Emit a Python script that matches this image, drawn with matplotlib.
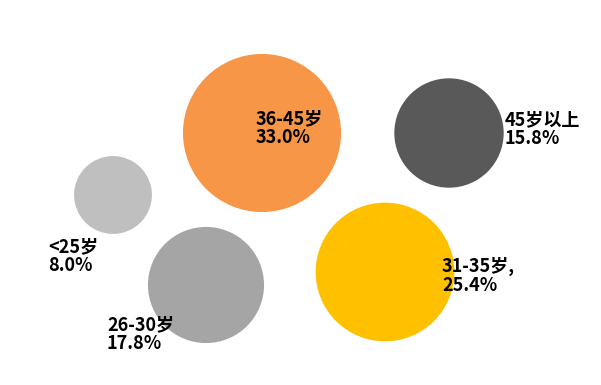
import matplotlib.pyplot as plt
import numpy as np

plt.rcParams['font.family'] = ['Noto Sans CJK SC', 'DejaVu Sans']

labels = ['<25岁', '26-30岁', '36-45岁', '31-35岁,', '45岁以上']
shares = [8.0, 17.8, 33.0, 25.4, 15.8]
xs = [113, 206, 262, 385, 449]
ys = [195, 285, 133, 272, 133]
colors = ['#BFBFBF', '#A5A5A5', '#F79646', '#FFC000', '#595959']

# label offsets (left, top) relative to bubble centre, in data units
offsets = [(-65, 42), (-99, 30), (-6, -24), (57, -15), (56, -23)]

fig = plt.figure(figsize=(6.01, 3.85), dpi=100)
ax = fig.add_axes([0, 0, 1, 1])
ax.set_xlim(0, 601)
ax.set_ylim(385, 0)
ax.axis('off')

# bubble area proportional to share
scale = 13.76 * 0.72 * 2
sizes = [(scale * np.sqrt(v)) ** 2 for v in shares]
ax.scatter(xs, ys, s=sizes, c=colors, linewidths=0, zorder=1)

for lab, v, x, y, (dx, dy) in zip(labels, shares, xs, ys, offsets):
    ax.text(x + dx, y + dy, f"{lab}\n{v:.1f}%", ha='left', va='top',
            fontsize=13, fontweight='bold', color='black',
            linespacing=1.0, zorder=2)

fig.savefig('out.png', dpi=100)
